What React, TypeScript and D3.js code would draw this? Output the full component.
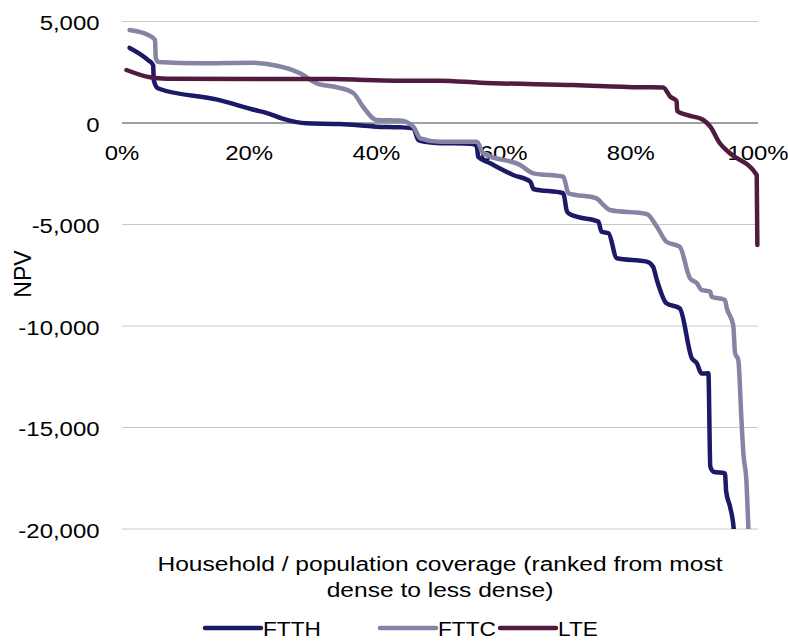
import { useEffect, useRef } from "react";
import * as d3 from "d3";

type Pt = [number, number];

// coverage % vs NPV
const ftth: Pt[] = [
  [1.2, 3700], [4.1, 3100], [4.9, 2850], [5.0, 2100], [5.7, 1700], [15, 1150], [20.9, 640],
  [22.8, 490], [25.1, 230], [29.0, -15], [34.3, -50], [40.0, -180], [43.7, -210], [45.8, -260],
  [46.6, -840], [48.9, -970], [55.2, -1035], [55.8, -1170], [56.0, -1660], [57.9, -1985],
  [61.5, -2560], [64.2, -2890], [64.7, -3250], [69.4, -3460], [69.9, -4290], [70.2, -4450],
  [71.5, -4615], [74.9, -4860], [75.4, -5355], [76.5, -5430], [77.8, -6665], [82.5, -6830],
  [83.5, -7080], [84.1, -7735], [85.6, -8880], [87.7, -9130], [89.6, -11590], [90.4, -11840],
  [91.1, -12340], [92.2, -12330], [92.5, -16930], [93.0, -17180], [94.8, -17260], [95.0, -18160],
  [95.6, -18900], [96.2, -20050], [96.4, -21000],
];

const fttc: Pt[] = [
  [1.2, 4580], [4.1, 4335], [5.2, 4090], [5.3, 3200], [5.7, 3005], [12.3, 2940], [20.6, 2970],
  [22.8, 2905], [28.0, 2450], [30.6, 1955], [33.8, 1760], [36.4, 1465], [37.9, 800], [40.0, 150],
  [43.7, 120], [45.8, -180], [46.9, -755], [50.0, -920], [55.8, -920], [56.8, -1490],
  [62.6, -2070], [64.7, -2480], [69.4, -2645], [70.2, -3465], [74.6, -3710], [75.7, -4040],
  [76.7, -4285], [82.5, -4480], [84.1, -5110], [85.6, -5850], [87.7, -6095], [89.3, -7650],
  [90.4, -7895], [91.1, -8225], [92.5, -8310], [92.7, -8555], [94.8, -8720], [95.1, -9130],
  [96.1, -9950], [96.4, -11345], [96.9, -11675], [97.4, -14630], [97.7, -16270], [98.2, -17750],
  [98.5, -20050], [98.6, -21000],
];

const lte: Pt[] = [
  [0.7, 2610], [4.4, 2250], [7.0, 2180], [22.8, 2170], [33.2, 2170], [38.5, 2120], [43.7, 2085],
  [50.0, 2085], [56.3, 1985], [71.0, 1870], [81.4, 1760], [85.1, 1750], [86.2, 1295], [87.2, 1085],
  [87.3, 590], [88.8, 395], [91.4, 150], [92.5, -180], [94.0, -1000], [95.6, -1490],
  [99.8, -2560], [99.9, -6010],
];

const seriesNames = ["FTTH", "FTTC", "LTE"];
const seriesData = [ftth, fttc, lte];
const colors = ["#1c1a66", "#8584a4", "#511b40"];

const yTicks = [5000, 0, -5000, -10000, -15000, -20000];
const xTicks = [0, 20, 40, 60, 80, 100];

const FONT = "'Liberation Sans', Arial, sans-serif";

export default function App() {
  const svgRef = useRef<SVGSVGElement>(null);

  useEffect(() => {
    if (!svgRef.current) return;
    const svg = d3.select(svgRef.current);
    svg.selectAll("*").remove();

    const left = 122, right = 758, top = 21.5, bottom = 529;
    const x = d3.scaleLinear().domain([0, 100]).range([left, right]);
    const y = d3.scaleLinear().domain([-20000, 5000]).range([bottom, top]);

    svg.append("defs").append("clipPath").attr("id", "plot")
      .append("rect").attr("x", 0).attr("y", 0).attr("width", 788).attr("height", bottom);

    // gridlines
    svg.append("g").selectAll("line").data(yTicks.filter((d) => d !== 0)).join("line")
      .attr("x1", left).attr("x2", right)
      .attr("y1", (d) => y(d)).attr("y2", (d) => y(d))
      .attr("stroke", "#c8c8c8").attr("stroke-width", 1);

    // y labels (plain hyphen for the minus sign)
    const fmt = d3.format(",");
    svg.append("g").selectAll("text").data(yTicks).join("text")
      .attr("transform", (d) => `translate(99.5,${y(d) + 8.5}) scale(1.14,1)`)
      .attr("text-anchor", "end")
      .attr("font-family", FONT).attr("font-size", 21).attr("fill", "#000")
      .text((d) => fmt(d).replace("\u2212", "-"));

    // zero axis
    svg.append("line").attr("x1", left).attr("x2", right).attr("y1", y(0)).attr("y2", y(0))
      .attr("stroke", "#404040").attr("stroke-width", 1);

    svg.append("g").selectAll("text").data(xTicks).join("text")
      .attr("transform", (d) => `translate(${x(d)},${y(0) + 37}) scale(1.14,1)`)
      .attr("text-anchor", "middle")
      .attr("font-family", FONT).attr("font-size", 21).attr("fill", "#000")
      .text((d) => `${d}%`);

    const line = d3.line<Pt>().x((d) => x(d[0])).y((d) => y(d[1])).curve(d3.curveMonotoneX);
    const g = svg.append("g").attr("clip-path", "url(#plot)");
    seriesData.forEach((data, i) => {
      g.append("path").datum(data).attr("fill", "none").attr("stroke", colors[i])
        .attr("stroke-width", 4.5).attr("stroke-linejoin", "round").attr("stroke-linecap", "round")
        .attr("d", line as any);
    });

    // axis titles
    svg.append("text")
      .attr("transform", `translate(31,274) rotate(-90)`)
      .attr("text-anchor", "middle")
      .attr("font-family", FONT).attr("font-size", 23).attr("fill", "#000")
      .text("NPV");

    const title = ["Household / population coverage (ranked from most", "dense to less dense)"];
    svg.append("g").selectAll("text").data(title).join("text")
      .attr("transform", (_, i) => `translate(440,${571 + i * 26}) scale(1.17,1)`)
      .attr("text-anchor", "middle")
      .attr("font-family", FONT).attr("font-size", 21).attr("fill", "#000")
      .text((d) => d);

    // legend
    const legendX = [205, 380, 500];
    const lg = svg.append("g");
    seriesNames.forEach((name, i) => {
      lg.append("line").attr("x1", legendX[i]).attr("x2", legendX[i] + 56)
        .attr("y1", 628).attr("y2", 628)
        .attr("stroke", colors[i]).attr("stroke-width", 4.5).attr("stroke-linecap", "round");
      lg.append("text")
        .attr("transform", `translate(${legendX[i] + 58},636) scale(1.08,1)`)
        .attr("font-family", FONT).attr("font-size", 21).attr("fill", "#000")
        .text(name);
    });
  }, []);

  return <svg ref={svgRef} width={788} height={643} style={{ position: "absolute", left: 0, top: 0, background: "#fff" }} />;
}
